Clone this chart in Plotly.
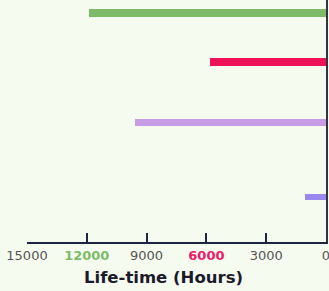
import plotly.graph_objects as go

# Data
series = ["Green", "Red", "Lavender", "Violet"]
lifetimes = [11900, 5800, 9600, 1050]
bar_colors = ["#7dbb68", "#ee1259", "#c79be6", "#9a88ee"]
tick_values = [15000, 12000, 9000, 6000, 3000, 0]
tick_labels = ["15000",
               "<span style='color:#7dbb68'><b>12000</b></span>",
               "9000",
               "<span style='color:#ec1a6a'><b>6000</b></span>",
               "3000",
               "0"]
axis_title = "Life-time (Hours)"

# layout positions (row centers, in px-like units from axis)
row_pos = [229.5, 180, 120, 45.5]
row_width = [8, 8, 7, 6]

fig = go.Figure()
for name, v, c, p, w in zip(series, lifetimes, bar_colors, row_pos, row_width):
    fig.add_trace(go.Bar(x=[v], y=[p], base=0, orientation="h", width=w,
                         marker=dict(color=c, line=dict(width=0)), name=name,
                         showlegend=False))

fig.update_layout(
    width=329, height=291,
    margin=dict(l=27, r=3, t=0, b=49, autoexpand=False),
    paper_bgcolor="#f6fbef", plot_bgcolor="#f6fbef",
    bargap=0,
    xaxis=dict(range=[15000, 0], tickvals=tick_values, ticktext=tick_labels,
               ticks="inside", ticklen=9, tickwidth=2, tickcolor="#1d2540",
               showline=True, linecolor="#1d2540", linewidth=2,
               showgrid=False, zeroline=False, automargin=False,
               ticklabeloverflow="allow",
               tickfont=dict(family="DejaVu Sans", size=13, color="#555555")),
    yaxis=dict(range=[0, 242], side="right", showline=True, linecolor="#333344",
               linewidth=1.5, showticklabels=False, ticks="", showgrid=False,
               zeroline=False, automargin=False),
    annotations=[dict(text="<b>" + axis_title + "</b>", xref="paper", yref="paper",
                      x=0.458, y=-0.145, xanchor="center", yanchor="middle",
                      showarrow=False,
                      font=dict(family="DejaVu Sans", size=16.5, color="#1a1a2a"))],
)

fig.write_html("out.html", config={"displayModeBar": False},
               post_script="document.body.style.margin='0';document.body.style.overflow='hidden';document.body.style.background='#f6fbef';")
